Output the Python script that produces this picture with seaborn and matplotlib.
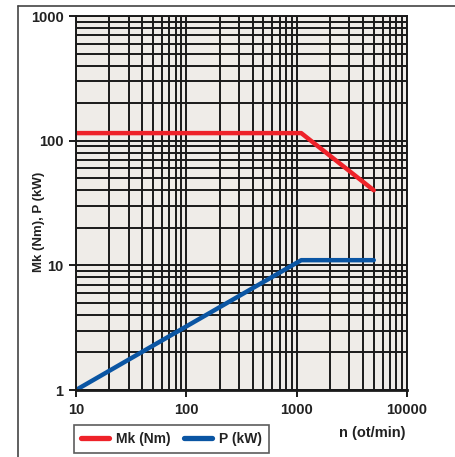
import matplotlib
matplotlib.use("Agg")
import matplotlib.pyplot as plt
import matplotlib.ticker as mticker
from matplotlib.lines import Line2D
import seaborn as sns
import pandas as pd

# Data
speed_mk = [10, 1100, 5000]
torque_mk = [115, 115, 40]
speed_p = [10, 1100, 5000]
power_p = [1, 11, 11]
series_names = ["Mk (Nm)", "P (kW)"]
x_ticks = [10, 100, 1000, 10000]
y_ticks = [1, 10, 100, 1000]

sns.set_theme(style="white")
plt.rcParams['font.family'] = ['Liberation Sans', 'DejaVu Sans']

df = pd.concat([
    pd.DataFrame({"n": speed_mk, "v": torque_mk, "s": series_names[0]}),
    pd.DataFrame({"n": speed_p, "v": power_p, "s": series_names[1]}),
])

red = "#EE2229"
blue = "#0A55A3"
txt = "#222222"

fig = plt.figure(figsize=(4.56, 4.57), dpi=100)
ax = fig.add_axes([76/456, 1-390/457, (407-76)/456, (390-16)/457])
ax.set_facecolor("#EFECE8")

sns.lineplot(data=df, x="n", y="v", hue="s", palette=[red, blue], linewidth=3.2,
             ax=ax, legend=False, sort=False, estimator=None)
ax.set_xscale("log")
ax.set_yscale("log")
ax.set_xlim(10, 10000)
ax.set_ylim(1, 1000)

ax.xaxis.set_major_locator(mticker.FixedLocator(x_ticks))
ax.yaxis.set_major_locator(mticker.FixedLocator(y_ticks))
ax.xaxis.set_major_formatter(mticker.FixedFormatter([str(t) for t in x_ticks]))
ax.yaxis.set_major_formatter(mticker.FixedFormatter([str(t) for t in y_ticks]))
ax.xaxis.set_minor_locator(mticker.LogLocator(base=10, subs=range(2, 10)))
ax.yaxis.set_minor_locator(mticker.LogLocator(base=10, subs=range(2, 10)))
ax.xaxis.set_minor_formatter(mticker.NullFormatter())
ax.yaxis.set_minor_formatter(mticker.NullFormatter())

ax.grid(True, which="both", color="#1a1a1a", linewidth=1.4)
ax.set_axisbelow(True)
for sp in ax.spines.values():
    sp.set_color("#1a1a1a")
    sp.set_linewidth(1.4)
ax.spines["bottom"].set_linewidth(2.0)

ax.tick_params(axis="both", which="major", length=5, width=1.4, color="#1a1a1a",
               labelsize=10.5, pad=4, bottom=True, left=True)
ax.tick_params(axis="both", which="minor", length=0)
for lab in ax.get_xticklabels() + ax.get_yticklabels():
    lab.set_fontweight("bold")
    lab.set_color(txt)

ax.set_xlabel("")
ax.set_ylabel("Mk (Nm), P (kW)", fontsize=9.5, fontweight="bold", color=txt)
ax.yaxis.set_label_coords((45-76)/331, (390-222)/374)

fig.text(406/456, 1-433/457, "n (ot/min)", ha="right", va="center",
         fontsize=10.5, fontweight="bold", color=txt)

handles = [Line2D([0], [0], color=red, lw=3.8), Line2D([0], [0], color=blue, lw=3.8)]
leg = fig.legend(handles, series_names, loc="upper left",
                 bbox_to_anchor=(74/456, 1-425/457), ncol=2, frameon=True,
                 fancybox=False, edgecolor="#333333", fontsize=10,
                 handlelength=2.0, columnspacing=1.0, borderpad=0.5,
                 handletextpad=0.5, borderaxespad=0)
leg.get_frame().set_linewidth(1.2)
for t in leg.get_texts():
    t.set_fontweight("bold")
    t.set_color(txt)

# outer frame lines (top and left)
fig.add_artist(Line2D([18/456, 18/456], [0, 1-6/457], color="#444444", lw=1.2,
                      transform=fig.transFigure))
fig.add_artist(Line2D([18/456, 1], [1-6/457, 1-6/457], color="#444444", lw=1.2,
                      transform=fig.transFigure))

fig.savefig("out.png", dpi=100)
